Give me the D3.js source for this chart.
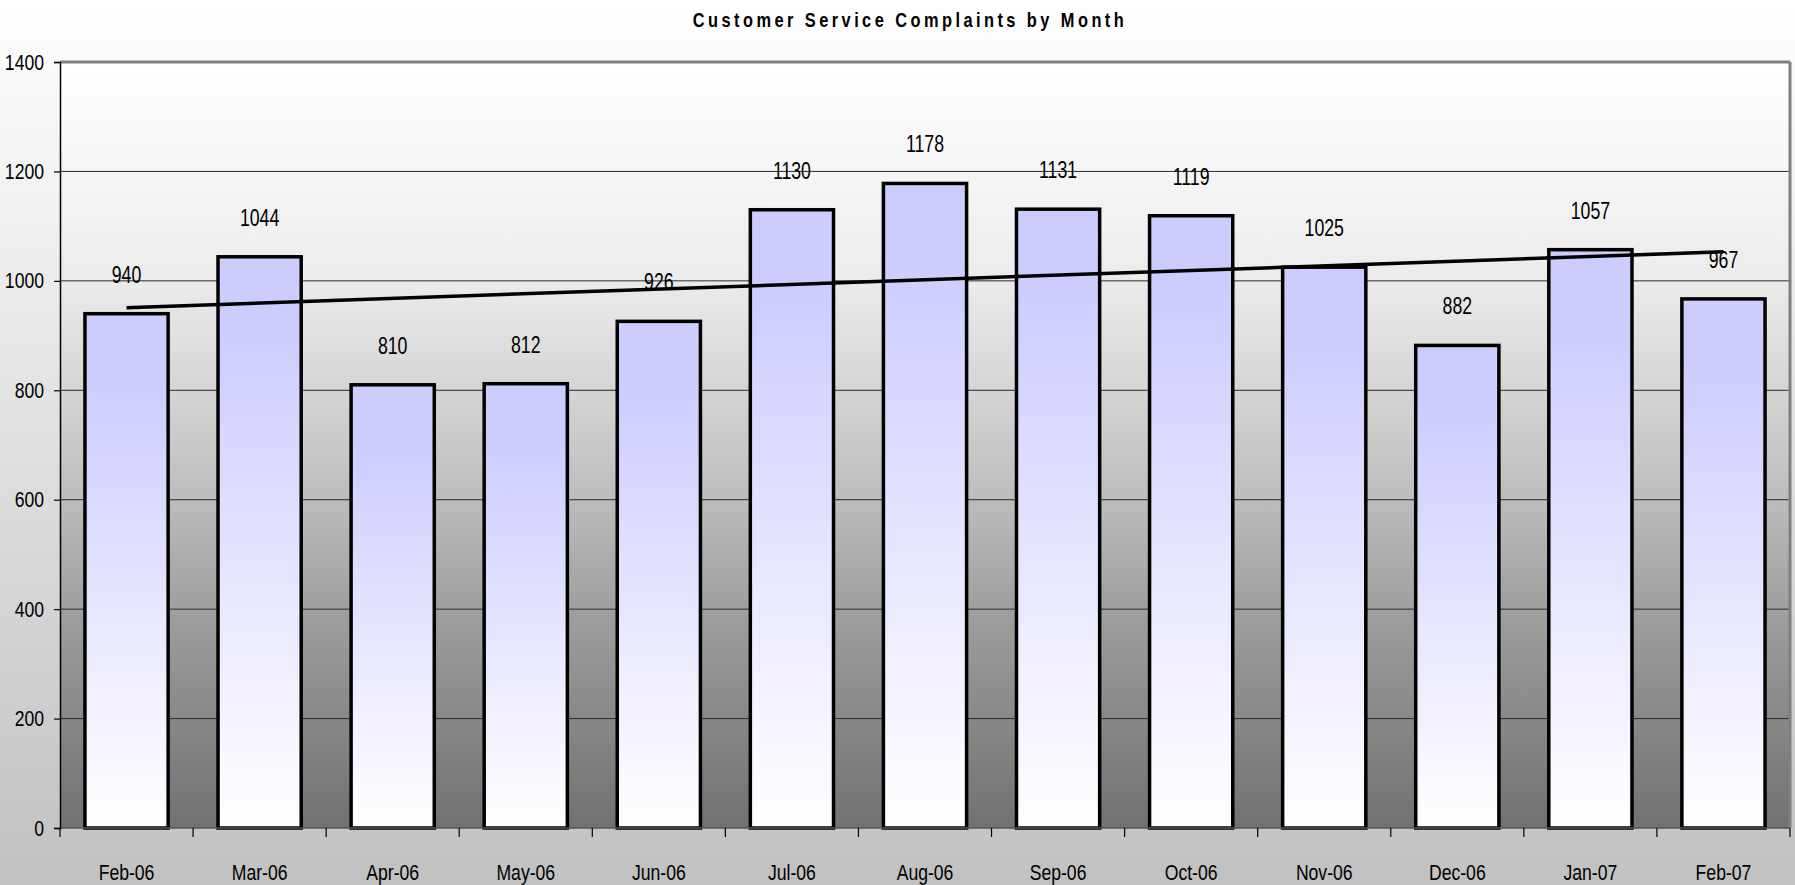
<!DOCTYPE html>
<html>
<head>
<meta charset="utf-8">
<script src="https://cdn.jsdelivr.net/npm/d3@7"></script>
<style>
  html, body { margin: 0; padding: 0; background: #fff; }
  svg { display: block; }
</style>
</head>
<body>
<div id="chart"></div>
<script>
const months = ['Feb-06', 'Mar-06', 'Apr-06', 'May-06', 'Jun-06', 'Jul-06', 'Aug-06',
  'Sep-06', 'Oct-06', 'Nov-06', 'Dec-06', 'Jan-07', 'Feb-07'];
const complaints = [940, 1044, 810, 812, 926, 1130, 1178, 1131, 1119, 1025, 882, 1057, 967];
const yTicks = [0, 200, 400, 600, 800, 1000, 1200, 1400];
// trendline: value at first and last month
const trendEnds = [951, 1053];
const title = 'Customer Service Complaints by Month';

const width = 1795;
const height = 885;
const margin = { top: 62, right: 5, bottom: 57, left: 60 };
const font = "'Liberation Sans', Arial, sans-serif";
const squeeze = 0.8; // no narrow font installed, so text is squeezed sideways

const svg = d3.select('#chart')
  .append('svg')
  .attr('width', width)
  .attr('height', height);

const defs = svg.append('defs');

// page background
const bgGrad = defs.append('linearGradient')
  .attr('id', 'bgGrad')
  .attr('x1', 0).attr('y1', 0).attr('x2', 0).attr('y2', 1);
bgGrad.append('stop').attr('offset', '0%').attr('stop-color', '#ffffff');
bgGrad.append('stop').attr('offset', '100%').attr('stop-color', '#c1c1c1');

// plot area background
const plotGrad = defs.append('linearGradient')
  .attr('id', 'plotGrad')
  .attr('x1', 0).attr('y1', 0).attr('x2', 0).attr('y2', 1);
[[0, '#ffffff'], [0.28, '#ececec'], [0.44, '#d3d3d3'], [0.57, '#bdbdbd'],
  [0.71, '#a0a0a0'], [1, '#717171']].forEach(([o, c]) => {
  plotGrad.append('stop').attr('offset', o).attr('stop-color', c);
});

// bar fill
const barGrad = defs.append('linearGradient')
  .attr('id', 'barGrad')
  .attr('x1', 0).attr('y1', 0).attr('x2', 0).attr('y2', 1);
barGrad.append('stop').attr('offset', '0%').attr('stop-color', '#ccccff');
barGrad.append('stop').attr('offset', '12%').attr('stop-color', '#ccccff');
barGrad.append('stop').attr('offset', '100%').attr('stop-color', '#ffffff');

svg.append('rect')
  .attr('width', width)
  .attr('height', height)
  .attr('fill', 'url(#bgGrad)');

const x = d3.scaleBand()
  .domain(months)
  .range([margin.left, width - margin.right])
  .paddingInner(0.375)
  .paddingOuter(0.1875);

const y = d3.scaleLinear()
  .domain([0, 1400])
  .range([height - margin.bottom, margin.top]);

const plotW = width - margin.right - margin.left;

svg.append('rect')
  .attr('x', margin.left)
  .attr('y', y(1400))
  .attr('width', plotW)
  .attr('height', y(0) - y(1400))
  .attr('fill', 'url(#plotGrad)');

// grid lines
svg.append('g')
  .selectAll('line')
  .data(yTicks.filter((d) => d > 0 && d < 1400))
  .join('line')
  .attr('x1', margin.left)
  .attr('x2', width - margin.right)
  .attr('y1', (d) => y(d))
  .attr('y2', (d) => y(d))
  .attr('stroke', '#2a2a2a')
  .attr('stroke-width', 1);

// top and right frame
svg.append('line')
  .attr('x1', margin.left).attr('x2', width - margin.right)
  .attr('y1', y(1400)).attr('y2', y(1400))
  .attr('stroke', '#808080').attr('stroke-width', 3);
svg.append('line')
  .attr('x1', width - margin.right).attr('x2', width - margin.right)
  .attr('y1', y(1400)).attr('y2', y(0))
  .attr('stroke', '#808080').attr('stroke-width', 3);

// bars
svg.append('g')
  .selectAll('rect')
  .data(complaints)
  .join('rect')
  .attr('x', (d, i) => x(months[i]))
  .attr('y', (d) => y(d))
  .attr('width', x.bandwidth())
  .attr('height', (d) => y(0) - y(d))
  .attr('fill', 'url(#barGrad)')
  .attr('stroke', '#000')
  .attr('stroke-width', 3.5);

// bottom axis
const xAxis = svg.append('g')
  .attr('transform', `translate(0, ${y(0)})`);
xAxis.append('line')
  .attr('x1', margin.left).attr('x2', width - margin.right)
  .attr('y1', 0).attr('y2', 0)
  .attr('stroke', '#555').attr('stroke-width', 1.5);
xAxis.selectAll('.tick')
  .data(d3.range(months.length + 1))
  .join('line')
  .attr('class', 'tick')
  .attr('x1', (i) => margin.left + i * x.step())
  .attr('x2', (i) => margin.left + i * x.step())
  .attr('y1', 0)
  .attr('y2', 9)
  .attr('stroke', '#000')
  .attr('stroke-width', 1.2);
xAxis.selectAll('text')
  .data(months)
  .join('text')
  .attr('transform', (d) => `translate(${x(d) + x.bandwidth() / 2}, 52) scale(${squeeze}, 1)`)
  .attr('text-anchor', 'middle')
  .style('font-family', font)
  .style('font-size', '22px')
  .attr('fill', '#000')
  .text((d) => d);

// left axis
svg.append('g')
  .attr('transform', `translate(${margin.left}, 0)`)
  .call(d3.axisLeft(y).tickValues(yTicks).tickSize(6).tickPadding(10).tickFormat(d3.format('d')))
  .call((g) => g.select('.domain').attr('stroke', '#000').attr('stroke-width', 1.5))
  .call((g) => g.selectAll('.tick line').attr('stroke', '#000').attr('stroke-width', 1.2))
  .call((g) => g.selectAll('.tick text')
    .attr('x', null)
    .attr('transform', `translate(-16, 0) scale(${squeeze}, 1)`)
    .style('font-family', font)
    .style('font-size', '22px')
    .attr('fill', '#000'));

// trendline
const trendLine = d3.line()
  .x((d) => x(d[0]) + x.bandwidth() / 2)
  .y((d) => y(d[1]));
svg.append('path')
  .datum([[months[0], trendEnds[0]], [months[months.length - 1], trendEnds[1]]])
  .attr('fill', 'none')
  .attr('stroke', '#000')
  .attr('stroke-width', 3.5)
  .attr('d', trendLine);

// value labels
svg.append('g')
  .selectAll('text')
  .data(complaints)
  .join('text')
  .attr('transform', (d, i) =>
    `translate(${x(months[i]) + x.bandwidth() / 2}, ${y(d) - 31}) scale(${squeeze - 0.03}, 1)`)
  .attr('text-anchor', 'middle')
  .style('font-family', font)
  .style('font-size', '23px')
  .attr('fill', '#000')
  .text((d) => d);

// title
svg.append('text')
  .attr('transform', `translate(910, 27) scale(0.82, 1)`)
  .attr('text-anchor', 'middle')
  .style('font-family', font)
  .style('font-size', '20px')
  .style('font-weight', 'bold')
  .style('letter-spacing', '4.2px')
  .attr('fill', '#000')
  .text(title);
</script>
</body>
</html>
